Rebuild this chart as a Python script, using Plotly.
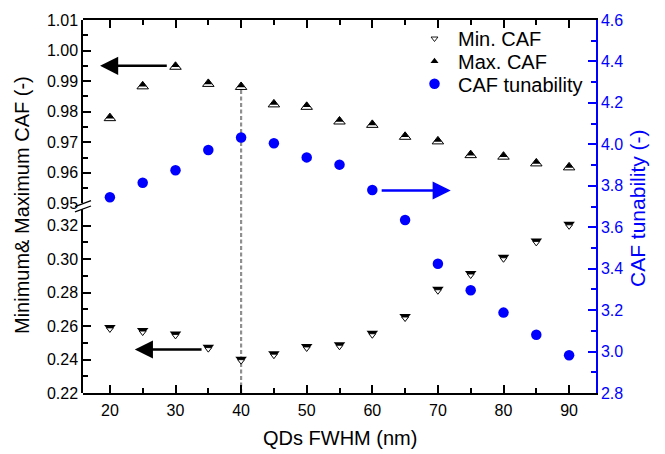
import plotly.graph_objects as go

# ---------------- data ----------------
fwhm = [20, 25, 30, 35, 40, 45, 50, 55, 60, 65, 70, 75, 80, 85, 90]
min_caf = [0.2592, 0.2573, 0.2553, 0.2474, 0.2402, 0.2435, 0.2478, 0.2488,
           0.2557, 0.2657, 0.2820, 0.2914, 0.3011, 0.3109, 0.3208]
max_caf = [0.9779, 0.9883, 0.9947, 0.9891, 0.9881, 0.9824, 0.9816, 0.9768,
           0.9757, 0.9718, 0.9703, 0.9658, 0.9653, 0.9631, 0.9618]
tunability = [3.745, 3.815, 3.875, 3.973, 4.033, 4.005, 3.937, 3.902,
              3.780, 3.635, 3.424, 3.296, 3.188, 3.081, 2.982]

x_ticks = [20, 30, 40, 50, 60, 70, 80, 90]
low_ticks = [0.22, 0.24, 0.26, 0.28, 0.30, 0.32]
up_ticks = [0.95, 0.96, 0.97, 0.98, 0.99, 1.00, 1.01]
right_ticks = [2.8, 3.0, 3.2, 3.4, 3.6, 3.8, 4.0, 4.2, 4.4, 4.6]

# ---------------- layout constants ----------------
W, H = 665, 454
ML, MR, MT, MB = 83, 69, 14, 61
PW, PH = W - ML - MR, H - MT - MB
FONT = "Liberation Sans, Arial, sans-serif"
BLUE = "#0000ff"

low_range = [0.22, 0.33]
up_range = [0.95, 1.01]
low_dom = [0, 187 / PH]
up_dom = [(PH - 186.4) / PH, 1]
low_ppu = low_dom[1] * PH / (low_range[1] - low_range[0])
up_ppu = (up_dom[1] - up_dom[0]) * PH / (up_range[1] - up_range[0])

MS = 10          # triangle size
K_MIN, K_MAX = 0.6, 0.7
shift_min = (MS / 2) * (1 - K_MIN) / low_ppu   # px -> data units (down)
shift_max = (MS / 2) * (1 - K_MAX) / up_ppu    # px -> data units (up)


def px_x(px):
    return (px - ML) / PW


def px_y(py):
    return (MT + PH - py) / PH


fig = go.Figure()

# CAF tunability (right axis)
fig.add_trace(go.Scatter(x=fwhm, y=tunability, mode="markers", name="CAF tunability",
                         yaxis="y", legend="legend3",
                         marker=dict(symbol="circle", size=10.5, color=BLUE)))
# Min CAF: black triangle + white lower part (shares tip)
fig.add_trace(go.Scatter(x=fwhm, y=min_caf, mode="markers", yaxis="y2", showlegend=False,
                         marker=dict(symbol="triangle-down", size=MS, color="black")))
fig.add_trace(go.Scatter(x=fwhm, y=min_caf, mode="markers", name="Min. CAF", yaxis="y4",
                         legend="legend",
                         marker=dict(symbol="triangle-down", size=MS * K_MIN, color="white",
                                     line=dict(color="black", width=0.9))))
# Max CAF: white triangle + black upper part (shares tip)
fig.add_trace(go.Scatter(x=fwhm, y=max_caf, mode="markers", yaxis="y3", showlegend=False,
                         marker=dict(symbol="triangle-up", size=MS, color="white",
                                     line=dict(color="black", width=1))))
fig.add_trace(go.Scatter(x=fwhm, y=max_caf, mode="markers", name="Max. CAF", yaxis="y5",
                         legend="legend2",
                         marker=dict(symbol="triangle-up", size=MS * K_MAX, color="black")))

axis_common = dict(showgrid=False, zeroline=False, showline=True, linewidth=1.5,
                   ticks="inside", ticklen=8, tickwidth=1.5)

LEG_X = px_x(411)


def legend_at(top_px):
    return dict(x=LEG_X, y=px_y(top_px), xanchor="left", yanchor="top",
                bgcolor="rgba(0,0,0,0)", font=dict(family=FONT, size=20, color="black"),
                itemwidth=37)


fig.update_layout(
    width=W, height=H,
    margin=dict(l=ML, r=MR, t=MT, b=MB),
    paper_bgcolor="white", plot_bgcolor="rgba(0,0,0,0)",
    font=dict(family=FONT, color="black"),
    xaxis=dict(range=[15.9, 94.1], tickvals=x_ticks, anchor="y", mirror="ticks",
               linecolor="black", tickcolor="black", ticklabelstandoff=2,
               tickfont=dict(family=FONT, size=16, color="black"),
               minor=dict(dtick=5, tick0=0, ticks="inside", ticklen=5, tickwidth=1.5,
                          tickcolor="black"),
               **axis_common),
    yaxis=dict(range=[right_ticks[0], right_ticks[-1]], domain=[0, 1], side="right",
               tickvals=right_ticks, tickformat=".1f", anchor="x",
               linecolor=BLUE, tickcolor=BLUE, color=BLUE,
               tickfont=dict(family=FONT, size=16, color=BLUE),
               minor=dict(dtick=0.1, tick0=0, ticks="inside", ticklen=5, tickwidth=1.5,
                          tickcolor=BLUE),
               **axis_common),
    yaxis2=dict(range=low_range, domain=low_dom, side="left", anchor="x",
                tickvals=low_ticks, tickformat=".2f",
                linecolor="black", tickcolor="black",
                tickfont=dict(family=FONT, size=16, color="black"),
                minor=dict(dtick=0.01, tick0=0, ticks="inside", ticklen=5, tickwidth=1.5,
                           tickcolor="black"),
                **axis_common),
    yaxis3=dict(range=up_range, domain=up_dom, side="left", anchor="x",
                tickvals=up_ticks, tickformat=".2f",
                linecolor="black", tickcolor="black",
                tickfont=dict(family=FONT, size=16, color="black"),
                minor=dict(dtick=0.005, tick0=0, ticks="inside", ticklen=5, tickwidth=1.5,
                           tickcolor="black"),
                **axis_common),
    yaxis4=dict(range=[low_range[0] + shift_min, low_range[1] + shift_min],
                overlaying="y2", visible=False, anchor="x"),
    yaxis5=dict(range=[up_range[0] - shift_max, up_range[1] - shift_max],
                overlaying="y3", visible=False, anchor="x"),
    legend=legend_at(13),
    legend2=legend_at(36),
    legend3=legend_at(59),
    showlegend=True,
)

# dashed guide at 40 nm
fig.add_shape(type="line", xref="x", yref="paper", x0=40, x1=40, y0=0, y1=px_y(85),
              line=dict(color="#8f8f8f", width=2.2, dash="4px,2.5px"), layer="below")

# axis break marks
for (y0p, y1p) in [(203.6, 197.6), (209.0, 203.0)]:
    fig.add_shape(type="line", xref="paper", yref="paper",
                  x0=px_x(75), x1=px_x(91), y0=px_y(y0p), y1=px_y(y1p),
                  line=dict(color="black", width=1.3))

# arrows
arrows = [
    dict(x=18.5, y=0.995, ax=28.9, ay=0.995, yref="y3", color="black"),
    dict(x=23.8, y=0.246, ax=34.2, ay=0.246, yref="y2", color="black"),
    dict(x=71.96, y=3.777, ax=61.2, ay=3.777, yref="y", color=BLUE),
]
for a in arrows:
    fig.add_annotation(x=a["x"], y=a["y"], ax=a["ax"], ay=a["ay"], xref="x", yref=a["yref"],
                       axref="x", ayref=a["yref"], text="", showarrow=True,
                       arrowhead=2, arrowsize=1.45, arrowwidth=2.5, arrowcolor=a["color"])

# titles
fig.add_annotation(text="Minimum& Maximum CAF (-)", xref="paper", yref="paper",
                   x=px_x(22), y=px_y(202), textangle=-90, showarrow=False,
                   xanchor="center", yanchor="middle",
                   font=dict(family=FONT, size=20, color="black"))
fig.add_annotation(text="CAF tunability (-)", xref="paper", yref="paper",
                   x=px_x(638), y=px_y(205), textangle=-90, showarrow=False,
                   xanchor="center", yanchor="middle",
                   font=dict(family=FONT, size=21, color=BLUE))
fig.add_annotation(text="QDs FWHM (nm)", xref="paper", yref="paper",
                   x=px_x(340), y=px_y(439), showarrow=False,
                   xanchor="center", yanchor="middle",
                   font=dict(family=FONT, size=20, color="black"))

fig.write_html("out.html", config={"displayModeBar": False},
               post_script="document.body.style.margin = '0px';")
